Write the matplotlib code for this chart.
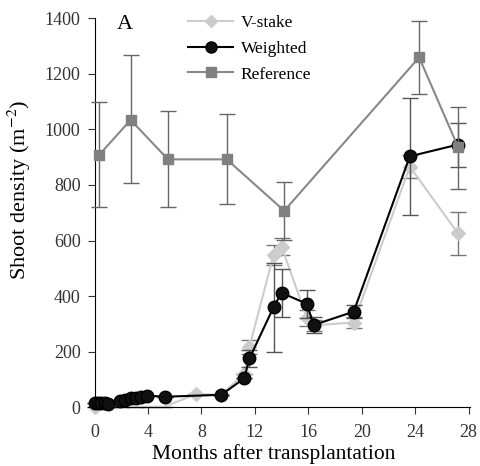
import matplotlib.pyplot as plt
from matplotlib.lines import Line2D
import numpy as np

plt.rcParams['font.family'] = ['Liberation Serif', 'DejaVu Serif']
plt.rcParams['mathtext.fontset'] = 'stix'

# V-stake
vs_x = [0, 0.5, 1.0, 2.0, 3.0, 4.0, 5.2, 7.6, 9.5, 11.2, 11.6, 13.4, 14.0, 15.9, 16.4, 19.4, 23.6, 27.2]
vs_y = [2, 2, 2, 2, 2, 2, 2, 47, 45, 120, 218, 548, 578, 321, 295, 305, 866, 626]
vs_err = [0, 0, 0, 0, 0, 0, 0, 0, 0, 0, 25, 36, 30, 30, 20, 20, 40, 77]

# Weighted
w_x = [0, 0.25, 0.5, 0.75, 1.0, 1.9, 2.3, 2.7, 3.1, 3.5, 3.9, 5.3, 9.5, 11.2, 11.6, 13.4, 14.0, 15.9, 16.4, 19.4, 23.6, 27.2]
w_y = [15, 14, 16, 14, 13, 22, 28, 32, 35, 38, 42, 38, 45, 104, 176, 360, 412, 372, 296, 344, 903, 945]
w_err = [0, 0, 0, 0, 0, 0, 0, 0, 0, 0, 0, 0, 0, 0, 30, 160, 87, 50, 28, 24, 211, 79]

# Reference
r_x = [0.35, 2.7, 5.5, 9.9, 14.2, 24.3, 27.2]
r_y = [908, 1034, 892, 892, 707, 1259, 938]
r_lo = [721, 806, 722, 732, 602, 1127, 784]
r_hi = [1100, 1268, 1067, 1055, 812, 1391, 1082]

fig = plt.figure(figsize=(4.8, 4.66), dpi=100)
ax = fig.add_axes([0.183, 0.126, 0.796, 0.835])

vs_marks = [0] + list(range(7, len(vs_x)))
ax.errorbar(vs_x, vs_y, yerr=vs_err, color='#cccccc', ecolor='#777777', elinewidth=1,
            capsize=6, lw=1.5, marker='D', ms=7, mfc='#cccccc', mec='#cccccc',
            markevery=vs_marks, clip_on=False, zorder=2)
ax.errorbar(w_x, w_y, yerr=w_err, color='black', ecolor='#555555', elinewidth=1,
            capsize=6, lw=1.5, marker='o', ms=9, mfc='#111111', mec='black',
            clip_on=False, zorder=3)
r_err = [np.array(r_y) - np.array(r_lo), np.array(r_hi) - np.array(r_y)]
ax.errorbar(r_x, r_y, yerr=r_err, color='#888888', ecolor='#666666', elinewidth=1,
            capsize=6, lw=1.5, marker='s', ms=7.5, mfc='#808080', mec='#808080',
            clip_on=False, zorder=4)

ax.set_xlim(-0.5, 28.1)
ax.set_ylim(0, 1400)
ax.spines['left'].set_position(('data', 0))
ax.spines['top'].set_visible(False)
ax.spines['right'].set_visible(False)
ax.set_xticks(range(0, 29, 4))
ax.set_yticks(range(0, 1401, 200))
ax.tick_params(direction='out', length=5, labelsize=13, colors='#333333')
ax.tick_params(axis='x', pad=7)
ax.tick_params(axis='y', pad=5)
ax.set_xlabel('Months after transplantation', fontsize=15.5)
ax.xaxis.set_label_coords(0.486, -0.095)
ax.set_ylabel('Shoot density (m$^{-2}$)', fontsize=16)
ax.yaxis.set_label_coords(-0.144, 0.558)

ax.text(0.076, 1.008, 'A', transform=ax.transAxes, fontsize=16, va='top')

handles = [
    Line2D([], [], color='#cccccc', lw=1.5, marker='D', ms=6, mfc='#cccccc', mec='#cccccc'),
    Line2D([], [], color='black', lw=1.5, marker='o', ms=8, mfc='#111111', mec='black'),
    Line2D([], [], color='#888888', lw=1.5, marker='s', ms=7, mfc='#808080', mec='#808080'),
]
fig.legend(handles, ['V-stake', 'Weighted', 'Reference'], loc='upper left',
           bbox_to_anchor=(188 / 480, 1 - 15 / 466), frameon=False, fontsize=12.5,
           handlelength=2.6, handletextpad=0.45, labelspacing=0.55,
           borderpad=0, borderaxespad=0)

fig.savefig('out.png', dpi=100)
